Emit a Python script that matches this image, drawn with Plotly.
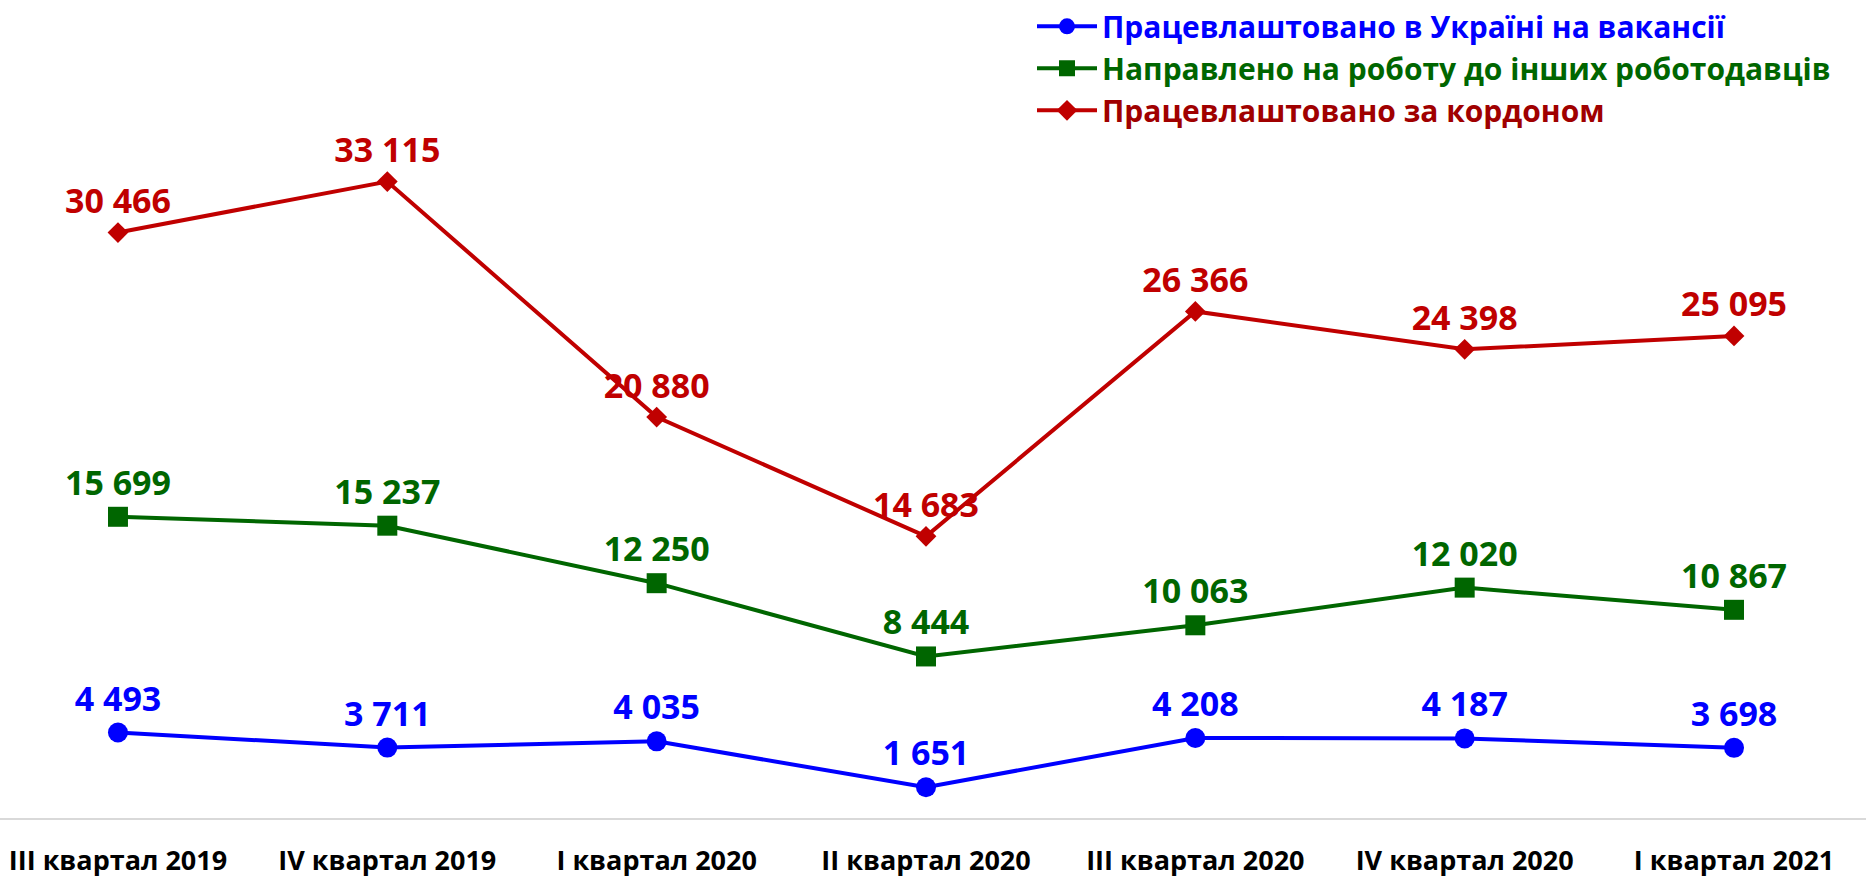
import plotly.graph_objects as go

categories = ["III квартал 2019", "IV квартал 2019", "I квартал 2020", "II квартал 2020",
              "III квартал 2020", "IV квартал 2020", "I квартал 2021"]
ukraine = [4493, 3711, 4035, 1651, 4208, 4187, 3698]
directed = [15699, 15237, 12250, 8444, 10063, 12020, 10867]
abroad = [30466, 33115, 20880, 14683, 26366, 24398, 25095]

names = ["Працевлаштовано в Україні на вакансії",
         "Направлено на роботу до інших роботодавців",
         "Працевлаштовано за кордоном"]

FONT = "Open Sans"
W, H = 1866, 878
top, bottom = 44, 59

fig = go.Figure()
series = [
    (ukraine, names[0], "#0000FF", "#0000FF", "circle", 20),
    (directed, names[1], "#006600", "#006600", "square", 20),
    (abroad, names[2], "#C00000", "#A00000", "diamond", 16),
]
for vals, name, col, lcol, sym, msize in series:
    fig.add_trace(go.Scatter(
        x=categories, y=vals, mode="lines+markers+text",
        name=f"<span style='color:{lcol}'><b>{name}</b></span>",
        line=dict(color=col, width=4),
        marker=dict(symbol=sym, size=msize, color=col),
        text=[f"{v:,}".replace(",", " ") for v in vals],
        textposition="top center",
        textfont=dict(family=FONT, size=34, color=col, weight="bold"),
        cliponaxis=False,
    ))

fig.update_layout(
    width=W, height=H,
    margin=dict(l=0, r=0, t=top, b=bottom),
    paper_bgcolor="white", plot_bgcolor="white",
    font=dict(family=FONT),
    showlegend=True,
    legend=dict(x=1032 / W, xanchor="left", y=1 + (top + 5) / (H - top - bottom), yanchor="top",
                font=dict(family=FONT, size=30, weight="bold"),
                bgcolor="rgba(0,0,0,0)", itemwidth=60, tracegroupgap=0),
    xaxis=dict(type="category", range=[-0.438, 6.49], showgrid=False, zeroline=False,
               showline=False, ticks="outside", ticklen=18, tickcolor="rgba(0,0,0,0)",
               tickfont=dict(family=FONT, size=27, color="black", weight="bold")),
    yaxis=dict(range=[0, 40000], showgrid=False, zeroline=True, zerolinecolor="#d9d9d9",
               zerolinewidth=2, showticklabels=False, showline=False),
)

fig.write_html("out.html", config={"displayModeBar": False},
               post_script="document.body.style.margin='0';")
